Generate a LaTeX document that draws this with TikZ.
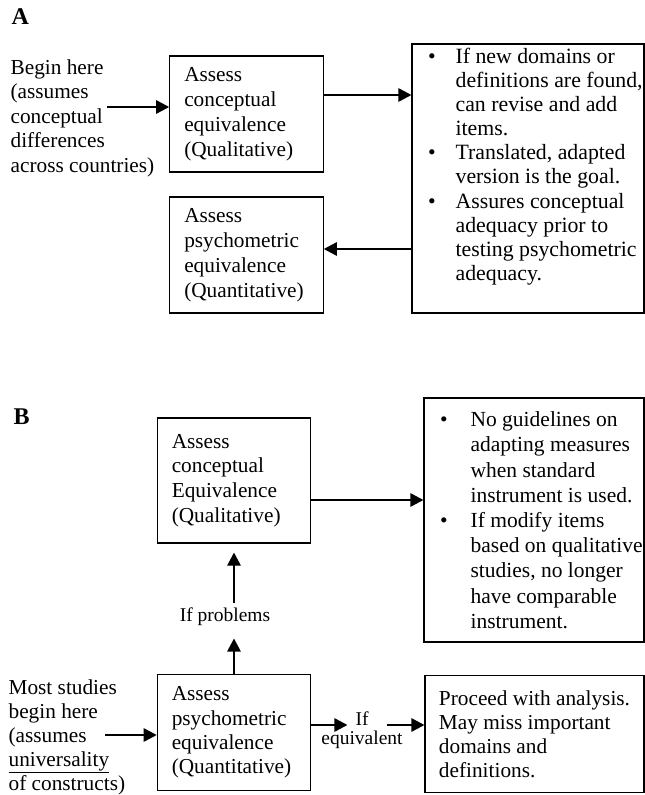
\documentclass[tikz,border=0pt]{standalone}
\usepackage{fontspec}
\setmainfont{Liberation Serif}
\usetikzlibrary{arrows.meta}

\begin{document}
\begin{tikzpicture}[x=1pt,y=-1pt,line width=1.2pt,>={Triangle[length=13pt,width=13.5pt]},
  box/.style={draw,align=left,inner xsep=14.5pt,text width=124.5pt,font=\fontsize{21.3}{#1}\selectfont},
  frame/.style={draw,inner sep=0pt},
  txt/.style={align=left,inner sep=0pt,font=\fontsize{21.3}{#1}\selectfont},
  lbl/.style={inner sep=4pt,font=\fontsize{19.5}{22}\selectfont},
  head/.style={anchor=base west,inner sep=0pt,font=\fontsize{24}{24}\selectfont\bfseries}]
\useasboundingbox (0,0) rectangle (645,795);

% A
\node[head] (hA) at (11,24) {A};
\node[txt=24.5,anchor=west] (startA) at (10,118) {Begin here\\(assumes\\conceptual\\differences\\across countries)};
\coordinate (inA) at (107,107);
\node[box=25,minimum height=116pt] (qualA) at (246.5,114) {Assess\\conceptual\\equivalence\\(Qualitative)};
\node[box=25,minimum height=116pt] (quantA) at (246.5,255) {Assess\\psychometric\\equivalence\\(Quantitative)};
\node[frame,minimum width=232pt,minimum height=269pt] (notesA) at (528,178.5) {};
\node[txt=24.1,anchor=north west,font=\fontsize{21.8}{24.1}\selectfont] (notesAt) at (427.5,46) {\begin{tabular}[t]{@{}p{27.5pt}@{}l@{}}
\textbullet & If new domains or\\
 & definitions are found,\\
 & can revise and add\\
 & items.\\
\textbullet & Translated, adapted\\
 & version is the goal.\\
\textbullet & Assures conceptual\\
 & adequacy prior to\\
 & testing psychometric\\
 & adequacy.
\end{tabular}};
\draw[->] (inA) -- (inA -| qualA.west);
\draw[->] ([yshift=19pt]qualA.east) -- ([yshift=19pt]qualA.east -| notesA.west);
\draw[->] ([yshift=6pt]quantA.east -| notesA.west) -- ([yshift=6pt]quantA.east);

% B
\node[head] (hB) at (13,424) {B};
\node[box=24.7,minimum height=125pt] (qualB) at (234,480.5) {Assess\\conceptual\\Equivalence\\(Qualitative)};
\node[frame,minimum width=220pt,minimum height=244pt] (notesB) at (534,520) {};
\node[txt=25.2,anchor=north west,font=\fontsize{21.5}{25.2}\selectfont] (notesBt) at (439.5,408.4) {\begin{tabular}[t]{@{}p{30.5pt}@{}l@{}}
\textbullet & No guidelines on\\
 & adapting measures\\
 & when standard\\
 & instrument is used.\\
\textbullet & If modify items\\
 & based on qualitative\\
 & studies, no longer\\
 & have comparable\\
 & instrument.
\end{tabular}};
\draw[->] ([yshift=-19.5pt]qualB.east) -- ([yshift=-19.5pt]qualB.east -| notesB.west);

\node[txt=24,anchor=west] (startB) at (8,737) {Most studies\\begin here\\(assumes\\\underline{universality}\\of constructs)};
\coordinate (inB) at (105,735);
\node[box=24.3,minimum height=116pt] (quantB) at (234,732.5) {Assess\\psychometric\\equivalence\\(Quantitative)};
\node[draw,align=left,font=\fontsize{21.3}{24}\selectfont,minimum width=219pt,minimum height=117pt] (procB) at (534.5,734) {Proceed with analysis.\\May miss important\\domains and\\definitions.};
\draw[->] (inB) -- (inB -| quantB.west);

\node[lbl] (ifprob) at (225,617) {If problems};
\draw[->] (quantB.north) -- ([yshift=-8pt]quantB.north |- ifprob.south);
\draw[->] (quantB.north |- ifprob.north) -- ([yshift=-9pt]qualB.south);

\node[lbl,inner sep=0pt,anchor=base] (ifw) at (362,725) {If};
\node[lbl,inner sep=0pt,anchor=base] (eqw) at (362,744) {equivalent};
\draw[->] (quantB.east |- ifw.base) -- ([xshift=-7.5pt]ifw.base west);
\draw[->] ([xshift=17.5pt]ifw.base east) -- (ifw.base -| procB.west);
\end{tikzpicture}
\end{document}
